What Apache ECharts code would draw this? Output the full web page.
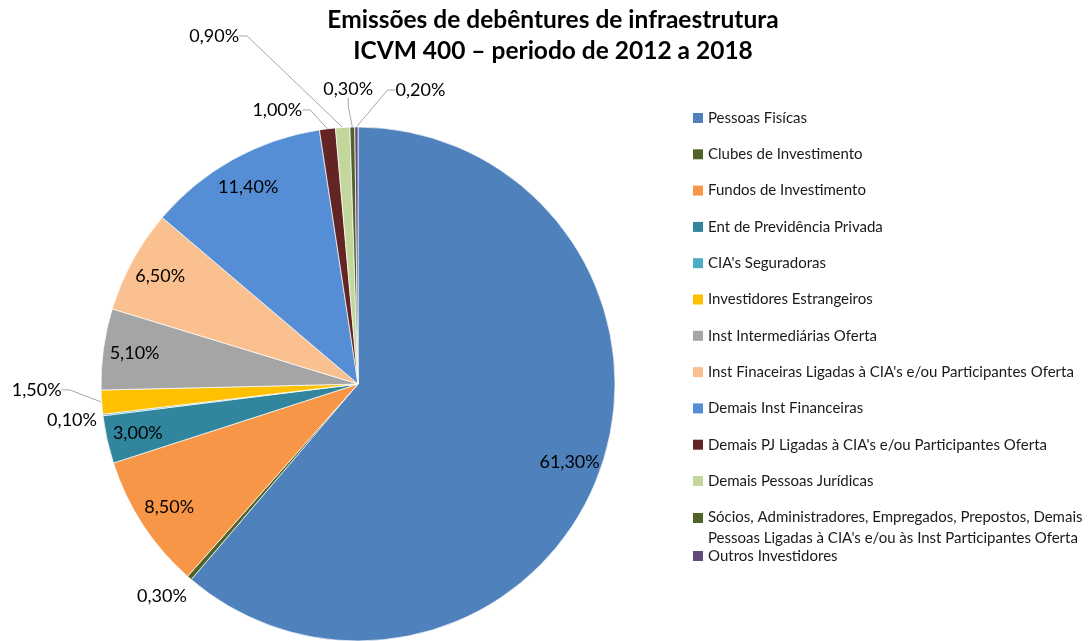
<!DOCTYPE html>
<html>
<head>
<meta charset="utf-8">
<title>Emissões de debêntures de infraestrutura</title>
<script src="https://cdn.jsdelivr.net/npm/echarts@6/dist/echarts.min.js"></script>
<style>
    html, body { margin: 0; padding: 0; background: #fff; }
    #chart { width: 1092px; height: 641px; }
</style>
</head>
<body>
<div id="chart"></div>
<script>
// categorias na ordem do gráfico (sentido horário a partir do topo)
const categories = [
    'Pessoas Fisícas',
    'Clubes de Investimento',
    'Fundos de Investimento',
    'Ent de Previdência Privada',
    "CIA's Seguradoras",
    'Investidores Estrangeiros',
    'Inst Intermediárias Oferta',
    "Inst Finaceiras Ligadas à CIA's e/ou Participantes Oferta",
    'Demais Inst Financeiras',
    "Demais PJ Ligadas à CIA's e/ou Participantes Oferta",
    'Demais Pessoas Jurídicas',
    "Sócios, Administradores, Empregados, Prepostos, Demais Pessoas Ligadas à CIA's e/ou às Inst Participantes Oferta",
    'Outros Investidores'
];
// participação (%) de cada categoria
const shares = [61.3, 0.3, 8.5, 3.0, 0.1, 1.5, 5.1, 6.5, 11.4, 1.0, 0.9, 0.3, 0.2];
// paleta do Excel
const palette = [
    '#4F81BD', '#4F6228', '#F79646', '#31859C', '#4BACC6', '#FFC000', '#A5A5A5',
    '#FAC090', '#558ED5', '#632523', '#C3D69B', '#4F6228', '#604A7B'
];

const FONT = 'Lato, "Liberation Sans", sans-serif';
const SOCIOS = categories[11];

// rótulos fora da pizza: deslocamento [dx, dy] a partir da posição padrão do echarts
const outsideNudge = {
    1: [17, 10.5],
    4: [17, 4],
    5: [-17, -13],
    9: [-11, -9],
    10: [-90, -81.5],
    11: [34, -28],
    12: [102, -27]
};
const noLine = [1, 4];

function fmtPct(v) {
    return v.toFixed(2).replace('.', ',') + '%';
}

const labelFont = { fontFamily: FONT, fontSize: 18, color: '#000' };
const legendText = { fontFamily: FONT, fontSize: 15, color: '#1a1a1a' };

const chart = echarts.init(document.getElementById('chart'));

chart.setOption({
    animation: false,
    title: {
        text: 'Emissões de debêntures de infraestrutura\nICVM 400 – periodo de 2012 a 2018',
        left: 553,
        top: 5,
        padding: 0,
        textAlign: 'center',
        textStyle: { fontFamily: FONT, fontSize: 24.5, fontWeight: 'bold', lineHeight: 31, color: '#000' }
    },
    legend: [{
        data: categories.slice(0, 11),
        orient: 'vertical',
        left: 693,
        top: 108,
        padding: 0,
        itemWidth: 10,
        itemHeight: 10,
        itemGap: 16.3,
        icon: 'rect',
        selectedMode: false,
        itemStyle: { borderWidth: 0 },
        textStyle: { ...legendText, lineHeight: 20 }
    }, {
        data: categories.slice(11),
        orient: 'vertical',
        left: 693,
        top: 497.5,
        padding: 0,
        itemWidth: 10,
        itemHeight: 10,
        itemGap: 0.5,
        icon: 'rect',
        selectedMode: false,
        itemStyle: { borderWidth: 0 },
        formatter: function (name) {
            if (name !== SOCIOS) return name;
            // quebra em duas linhas; a 1ª linha fica alinhada com o marcador
            const cut = name.indexOf(' Pessoas Ligadas');
            return '{l1|' + name.slice(0, cut) + '}\n{l2|' + name.slice(cut + 1) + '}';
        },
        textStyle: {
            ...legendText,
            lineHeight: 20,
            rich: {
                l1: { ...legendText, lineHeight: 40 },
                l2: { ...legendText, lineHeight: 1 }
            }
        }
    }],
    series: [{
        // pizza principal + rótulos externos
        type: 'pie',
        center: [358, 384],
        radius: 257,
        startAngle: 90,
        clockwise: true,
        avoidLabelOverlap: false,
        emphasis: { disabled: true },
        itemStyle: { borderColor: '#fff', borderWidth: 0.7 },
        label: {
            position: 'outside',
            formatter: p => fmtPct(p.value),
            distanceToLabelLine: 5,
            ...labelFont
        },
        labelLine: { length: 10, length2: 8, lineStyle: { color: '#A6A6A6', width: 1 } },
        labelLayout: function (p) {
            const nudge = outsideNudge[p.dataIndex];
            if (!nudge) return {};
            const r = p.labelRect;
            const ax = p.align === 'right' ? r.x + r.width : (p.align === 'center' ? r.x + r.width / 2 : r.x);
            return { x: ax + nudge[0], y: r.y + r.height / 2 + nudge[1] };
        },
        data: categories.map((name, i) => ({
            name: name,
            value: shares[i],
            itemStyle: { color: palette[i] },
            label: { show: i in outsideNudge },
            labelLine: { show: (i in outsideNudge) && noLine.indexOf(i) < 0 }
        }))
    }, {
        // camada transparente só para posicionar os rótulos internos
        type: 'pie',
        center: [358, 384],
        radius: [188, 257],
        startAngle: 90,
        clockwise: true,
        silent: true,
        avoidLabelOverlap: false,
        emphasis: { disabled: true },
        itemStyle: { color: 'rgba(0,0,0,0)' },
        label: {
            position: 'inside',
            formatter: p => fmtPct(p.value),
            ...labelFont
        },
        labelLine: { show: false },
        data: categories.map((name, i) => ({
            name: name,
            value: shares[i],
            label: { show: !(i in outsideNudge) }
        }))
    }]
});
</script>
</body>
</html>
